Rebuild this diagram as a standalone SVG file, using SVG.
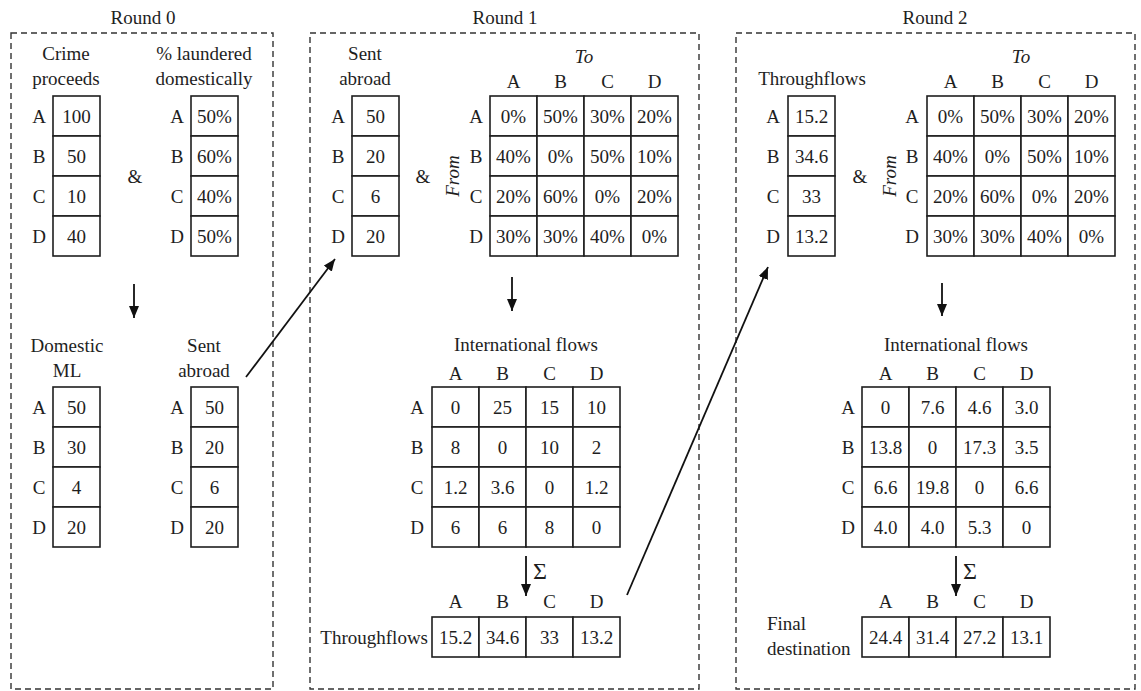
<svg xmlns="http://www.w3.org/2000/svg" width="1141" height="691" viewBox="0 0 1141 691">
  <style>
    text { font-family: "Liberation Serif", "Times New Roman", serif; font-size: 19px; fill: #1e1e1e; }
    .c { text-anchor: middle; }
    .e { text-anchor: end; }
    .it { font-style: italic; }
    .sig { font-size: 24px; }
    .panel { fill: none; stroke: #333; stroke-width: 1.4; stroke-dasharray: 6 4; }
    .cell { fill: #fff; stroke: #1e1e1e; stroke-width: 1.6; }
    .arr { fill: none; stroke: #111; stroke-width: 1.8; marker-end: url(#head); }
  </style>
  <defs>
    <marker id="head" markerUnits="userSpaceOnUse" markerWidth="13" markerHeight="10" refX="12" refY="5" orient="auto">
      <path d="M0,0 L12,5 L0,10 Z" fill="#111"/>
    </marker>
  </defs>

  <rect width="1141" height="691" fill="#fff"/>

  <!-- dashed round panels -->
  <g id="panels">
    <rect class="panel" x="11" y="33" width="262" height="656"/>
    <rect class="panel" x="310" y="33" width="389" height="656"/>
    <rect class="panel" x="736" y="33" width="399" height="656"/>
    <text class="c" x="143" y="24">Round 0</text>
    <text class="c" x="505" y="24">Round 1</text>
    <text class="c" x="935" y="24">Round 2</text>
  </g>

  <!-- Round 0 -->
  <g id="r0-crime">
    <text class="c" x="66" y="60">Crime</text>
    <text class="c" x="66" y="85">proceeds</text>
    <rect class="cell" x="53" y="96" width="47" height="40"/>
    <rect class="cell" x="53" y="136" width="47" height="40"/>
    <rect class="cell" x="53" y="176" width="47" height="40"/>
    <rect class="cell" x="53" y="216" width="47" height="40"/>
    <text class="c" x="39" y="123">A</text><text class="c" x="76.5" y="123">100</text>
    <text class="c" x="39" y="163">B</text><text class="c" x="76.5" y="163">50</text>
    <text class="c" x="39" y="203">C</text><text class="c" x="76.5" y="203">10</text>
    <text class="c" x="39" y="243">D</text><text class="c" x="76.5" y="243">40</text>
  </g>
  <g id="r0-amp"><text class="c" x="135" y="183">&amp;</text></g>
  <g id="r0-domestic-share">
    <text class="c" x="204" y="60">% laundered</text>
    <text class="c" x="204" y="85">domestically</text>
    <rect class="cell" x="191" y="96" width="47" height="40"/>
    <rect class="cell" x="191" y="136" width="47" height="40"/>
    <rect class="cell" x="191" y="176" width="47" height="40"/>
    <rect class="cell" x="191" y="216" width="47" height="40"/>
    <text class="c" x="177" y="123">A</text><text class="c" x="214.5" y="123">50%</text>
    <text class="c" x="177" y="163">B</text><text class="c" x="214.5" y="163">60%</text>
    <text class="c" x="177" y="203">C</text><text class="c" x="214.5" y="203">40%</text>
    <text class="c" x="177" y="243">D</text><text class="c" x="214.5" y="243">50%</text>
  </g>
  <g id="r0-domestic-ml">
    <text class="c" x="67" y="352">Domestic</text>
    <text class="c" x="67" y="377">ML</text>
    <rect class="cell" x="53" y="387" width="47" height="40"/>
    <rect class="cell" x="53" y="427" width="47" height="40"/>
    <rect class="cell" x="53" y="467" width="47" height="40"/>
    <rect class="cell" x="53" y="507" width="47" height="40"/>
    <text class="c" x="39" y="414">A</text><text class="c" x="76.5" y="414">50</text>
    <text class="c" x="39" y="454">B</text><text class="c" x="76.5" y="454">30</text>
    <text class="c" x="39" y="494">C</text><text class="c" x="76.5" y="494">4</text>
    <text class="c" x="39" y="534">D</text><text class="c" x="76.5" y="534">20</text>
  </g>
  <g id="r0-sent-abroad">
    <text class="c" x="204" y="352">Sent</text>
    <text class="c" x="204" y="377">abroad</text>
    <rect class="cell" x="191" y="387" width="47" height="40"/>
    <rect class="cell" x="191" y="427" width="47" height="40"/>
    <rect class="cell" x="191" y="467" width="47" height="40"/>
    <rect class="cell" x="191" y="507" width="47" height="40"/>
    <text class="c" x="177" y="414">A</text><text class="c" x="214.5" y="414">50</text>
    <text class="c" x="177" y="454">B</text><text class="c" x="214.5" y="454">20</text>
    <text class="c" x="177" y="494">C</text><text class="c" x="214.5" y="494">6</text>
    <text class="c" x="177" y="534">D</text><text class="c" x="214.5" y="534">20</text>
  </g>

  <!-- Round 1 -->
  <g id="r1-sent-abroad">
    <text class="c" x="365" y="60">Sent</text>
    <text class="c" x="365" y="85">abroad</text>
    <rect class="cell" x="352" y="96" width="47" height="40"/>
    <rect class="cell" x="352" y="136" width="47" height="40"/>
    <rect class="cell" x="352" y="176" width="47" height="40"/>
    <rect class="cell" x="352" y="216" width="47" height="40"/>
    <text class="c" x="338" y="123">A</text><text class="c" x="375.5" y="123">50</text>
    <text class="c" x="338" y="163">B</text><text class="c" x="375.5" y="163">20</text>
    <text class="c" x="338" y="203">C</text><text class="c" x="375.5" y="203">6</text>
    <text class="c" x="338" y="243">D</text><text class="c" x="375.5" y="243">20</text>
  </g>
  <g id="r1-amp"><text class="c" x="423" y="183">&amp;</text></g>
  <g id="r1-shares">
    <text class="c it" x="584" y="63">To</text>
    <text class="c it" transform="translate(459,176) rotate(-90)">From</text>
    <text class="c" x="513.5" y="88">A</text><text class="c" x="560.5" y="88">B</text>
    <text class="c" x="607.5" y="88">C</text><text class="c" x="654.5" y="88">D</text>
    <g>
      <rect class="cell" x="490" y="96" width="47" height="40"/><rect class="cell" x="537" y="96" width="47" height="40"/>
      <rect class="cell" x="584" y="96" width="47" height="40"/><rect class="cell" x="631" y="96" width="47" height="40"/>
      <rect class="cell" x="490" y="136" width="47" height="40"/><rect class="cell" x="537" y="136" width="47" height="40"/>
      <rect class="cell" x="584" y="136" width="47" height="40"/><rect class="cell" x="631" y="136" width="47" height="40"/>
      <rect class="cell" x="490" y="176" width="47" height="40"/><rect class="cell" x="537" y="176" width="47" height="40"/>
      <rect class="cell" x="584" y="176" width="47" height="40"/><rect class="cell" x="631" y="176" width="47" height="40"/>
      <rect class="cell" x="490" y="216" width="47" height="40"/><rect class="cell" x="537" y="216" width="47" height="40"/>
      <rect class="cell" x="584" y="216" width="47" height="40"/><rect class="cell" x="631" y="216" width="47" height="40"/>
    </g>
    <text class="c" x="476" y="123">A</text>
    <text class="c" x="513.5" y="123">0%</text><text class="c" x="560.5" y="123">50%</text><text class="c" x="607.5" y="123">30%</text><text class="c" x="654.5" y="123">20%</text>
    <text class="c" x="476" y="163">B</text>
    <text class="c" x="513.5" y="163">40%</text><text class="c" x="560.5" y="163">0%</text><text class="c" x="607.5" y="163">50%</text><text class="c" x="654.5" y="163">10%</text>
    <text class="c" x="476" y="203">C</text>
    <text class="c" x="513.5" y="203">20%</text><text class="c" x="560.5" y="203">60%</text><text class="c" x="607.5" y="203">0%</text><text class="c" x="654.5" y="203">20%</text>
    <text class="c" x="476" y="243">D</text>
    <text class="c" x="513.5" y="243">30%</text><text class="c" x="560.5" y="243">30%</text><text class="c" x="607.5" y="243">40%</text><text class="c" x="654.5" y="243">0%</text>
  </g>
  <g id="r1-flows">
    <text class="c" x="526" y="351">International flows</text>
    <text class="c" x="455.5" y="380">A</text><text class="c" x="502.5" y="380">B</text>
    <text class="c" x="549.5" y="380">C</text><text class="c" x="596.5" y="380">D</text>
    <g>
      <rect class="cell" x="432" y="387" width="47" height="40"/><rect class="cell" x="479" y="387" width="47" height="40"/>
      <rect class="cell" x="526" y="387" width="47" height="40"/><rect class="cell" x="573" y="387" width="47" height="40"/>
      <rect class="cell" x="432" y="427" width="47" height="40"/><rect class="cell" x="479" y="427" width="47" height="40"/>
      <rect class="cell" x="526" y="427" width="47" height="40"/><rect class="cell" x="573" y="427" width="47" height="40"/>
      <rect class="cell" x="432" y="467" width="47" height="40"/><rect class="cell" x="479" y="467" width="47" height="40"/>
      <rect class="cell" x="526" y="467" width="47" height="40"/><rect class="cell" x="573" y="467" width="47" height="40"/>
      <rect class="cell" x="432" y="507" width="47" height="40"/><rect class="cell" x="479" y="507" width="47" height="40"/>
      <rect class="cell" x="526" y="507" width="47" height="40"/><rect class="cell" x="573" y="507" width="47" height="40"/>
    </g>
    <text class="c" x="417" y="414">A</text>
    <text class="c" x="455.5" y="414">0</text><text class="c" x="502.5" y="414">25</text><text class="c" x="549.5" y="414">15</text><text class="c" x="596.5" y="414">10</text>
    <text class="c" x="417" y="454">B</text>
    <text class="c" x="455.5" y="454">8</text><text class="c" x="502.5" y="454">0</text><text class="c" x="549.5" y="454">10</text><text class="c" x="596.5" y="454">2</text>
    <text class="c" x="417" y="494">C</text>
    <text class="c" x="455.5" y="494">1.2</text><text class="c" x="502.5" y="494">3.6</text><text class="c" x="549.5" y="494">0</text><text class="c" x="596.5" y="494">1.2</text>
    <text class="c" x="417" y="534">D</text>
    <text class="c" x="455.5" y="534">6</text><text class="c" x="502.5" y="534">6</text><text class="c" x="549.5" y="534">8</text><text class="c" x="596.5" y="534">0</text>
  </g>
  <g id="r1-sigma"><text class="sig" x="533" y="579">Σ</text></g>
  <g id="r1-throughflows">
    <text class="c" x="455.5" y="608">A</text><text class="c" x="502.5" y="608">B</text>
    <text class="c" x="549.5" y="608">C</text><text class="c" x="596.5" y="608">D</text>
    <rect class="cell" x="432" y="617" width="47" height="40"/><rect class="cell" x="479" y="617" width="47" height="40"/>
    <rect class="cell" x="526" y="617" width="47" height="40"/><rect class="cell" x="573" y="617" width="47" height="40"/>
    <text class="e" x="428" y="644">Throughflows</text>
    <text class="c" x="455.5" y="644">15.2</text><text class="c" x="502.5" y="644">34.6</text>
    <text class="c" x="549.5" y="644">33</text><text class="c" x="596.5" y="644">13.2</text>
  </g>

  <!-- Round 2 -->
  <g id="r2-throughflows">
    <text class="c" x="812" y="85">Throughflows</text>
    <rect class="cell" x="788" y="96" width="47" height="40"/>
    <rect class="cell" x="788" y="136" width="47" height="40"/>
    <rect class="cell" x="788" y="176" width="47" height="40"/>
    <rect class="cell" x="788" y="216" width="47" height="40"/>
    <text class="c" x="773" y="123">A</text><text class="c" x="811.5" y="123">15.2</text>
    <text class="c" x="773" y="163">B</text><text class="c" x="811.5" y="163">34.6</text>
    <text class="c" x="773" y="203">C</text><text class="c" x="811.5" y="203">33</text>
    <text class="c" x="773" y="243">D</text><text class="c" x="811.5" y="243">13.2</text>
  </g>
  <g id="r2-amp"><text class="c" x="860" y="183">&amp;</text></g>
  <g id="r2-shares">
    <text class="c it" x="1021" y="63">To</text>
    <text class="c it" transform="translate(896,176) rotate(-90)">From</text>
    <text class="c" x="950.5" y="88">A</text><text class="c" x="997.5" y="88">B</text>
    <text class="c" x="1044.5" y="88">C</text><text class="c" x="1091.5" y="88">D</text>
    <g>
      <rect class="cell" x="927" y="96" width="47" height="40"/><rect class="cell" x="974" y="96" width="47" height="40"/>
      <rect class="cell" x="1021" y="96" width="47" height="40"/><rect class="cell" x="1068" y="96" width="47" height="40"/>
      <rect class="cell" x="927" y="136" width="47" height="40"/><rect class="cell" x="974" y="136" width="47" height="40"/>
      <rect class="cell" x="1021" y="136" width="47" height="40"/><rect class="cell" x="1068" y="136" width="47" height="40"/>
      <rect class="cell" x="927" y="176" width="47" height="40"/><rect class="cell" x="974" y="176" width="47" height="40"/>
      <rect class="cell" x="1021" y="176" width="47" height="40"/><rect class="cell" x="1068" y="176" width="47" height="40"/>
      <rect class="cell" x="927" y="216" width="47" height="40"/><rect class="cell" x="974" y="216" width="47" height="40"/>
      <rect class="cell" x="1021" y="216" width="47" height="40"/><rect class="cell" x="1068" y="216" width="47" height="40"/>
    </g>
    <text class="c" x="912" y="123">A</text>
    <text class="c" x="950.5" y="123">0%</text><text class="c" x="997.5" y="123">50%</text><text class="c" x="1044.5" y="123">30%</text><text class="c" x="1091.5" y="123">20%</text>
    <text class="c" x="912" y="163">B</text>
    <text class="c" x="950.5" y="163">40%</text><text class="c" x="997.5" y="163">0%</text><text class="c" x="1044.5" y="163">50%</text><text class="c" x="1091.5" y="163">10%</text>
    <text class="c" x="912" y="203">C</text>
    <text class="c" x="950.5" y="203">20%</text><text class="c" x="997.5" y="203">60%</text><text class="c" x="1044.5" y="203">0%</text><text class="c" x="1091.5" y="203">20%</text>
    <text class="c" x="912" y="243">D</text>
    <text class="c" x="950.5" y="243">30%</text><text class="c" x="997.5" y="243">30%</text><text class="c" x="1044.5" y="243">40%</text><text class="c" x="1091.5" y="243">0%</text>
  </g>
  <g id="r2-flows">
    <text class="c" x="956" y="351">International flows</text>
    <text class="c" x="885.5" y="380">A</text><text class="c" x="932.5" y="380">B</text>
    <text class="c" x="979.5" y="380">C</text><text class="c" x="1026.5" y="380">D</text>
    <g>
      <rect class="cell" x="862" y="387" width="47" height="40"/><rect class="cell" x="909" y="387" width="47" height="40"/>
      <rect class="cell" x="956" y="387" width="47" height="40"/><rect class="cell" x="1003" y="387" width="47" height="40"/>
      <rect class="cell" x="862" y="427" width="47" height="40"/><rect class="cell" x="909" y="427" width="47" height="40"/>
      <rect class="cell" x="956" y="427" width="47" height="40"/><rect class="cell" x="1003" y="427" width="47" height="40"/>
      <rect class="cell" x="862" y="467" width="47" height="40"/><rect class="cell" x="909" y="467" width="47" height="40"/>
      <rect class="cell" x="956" y="467" width="47" height="40"/><rect class="cell" x="1003" y="467" width="47" height="40"/>
      <rect class="cell" x="862" y="507" width="47" height="40"/><rect class="cell" x="909" y="507" width="47" height="40"/>
      <rect class="cell" x="956" y="507" width="47" height="40"/><rect class="cell" x="1003" y="507" width="47" height="40"/>
    </g>
    <text class="c" x="848" y="414">A</text>
    <text class="c" x="885.5" y="414">0</text><text class="c" x="932.5" y="414">7.6</text><text class="c" x="979.5" y="414">4.6</text><text class="c" x="1026.5" y="414">3.0</text>
    <text class="c" x="848" y="454">B</text>
    <text class="c" x="885.5" y="454">13.8</text><text class="c" x="932.5" y="454">0</text><text class="c" x="979.5" y="454">17.3</text><text class="c" x="1026.5" y="454">3.5</text>
    <text class="c" x="848" y="494">C</text>
    <text class="c" x="885.5" y="494">6.6</text><text class="c" x="932.5" y="494">19.8</text><text class="c" x="979.5" y="494">0</text><text class="c" x="1026.5" y="494">6.6</text>
    <text class="c" x="848" y="534">D</text>
    <text class="c" x="885.5" y="534">4.0</text><text class="c" x="932.5" y="534">4.0</text><text class="c" x="979.5" y="534">5.3</text><text class="c" x="1026.5" y="534">0</text>
  </g>
  <g id="r2-sigma"><text class="sig" x="963" y="579">Σ</text></g>
  <g id="r2-final">
    <text class="c" x="885.5" y="608">A</text><text class="c" x="932.5" y="608">B</text>
    <text class="c" x="979.5" y="608">C</text><text class="c" x="1026.5" y="608">D</text>
    <rect class="cell" x="862" y="617" width="47" height="40"/><rect class="cell" x="909" y="617" width="47" height="40"/>
    <rect class="cell" x="956" y="617" width="47" height="40"/><rect class="cell" x="1003" y="617" width="47" height="40"/>
    <text x="767" y="630">Final</text>
    <text x="767" y="655">destination</text>
    <text class="c" x="885.5" y="644">24.4</text><text class="c" x="932.5" y="644">31.4</text>
    <text class="c" x="979.5" y="644">27.2</text><text class="c" x="1026.5" y="644">13.1</text>
  </g>

  <!-- connectors -->
  <g id="connectors">
    <line class="arr" x1="134" y1="284" x2="134" y2="318"/>
    <line class="arr" x1="246" y1="377" x2="335" y2="259"/>
    <line class="arr" x1="512" y1="277" x2="512" y2="311"/>
    <line class="arr" x1="526" y1="556" x2="526" y2="596"/>
    <line class="arr" x1="627" y1="595" x2="768" y2="267"/>
    <line class="arr" x1="942" y1="283" x2="942" y2="316"/>
    <line class="arr" x1="956" y1="556" x2="956" y2="596"/>
  </g>
</svg>
